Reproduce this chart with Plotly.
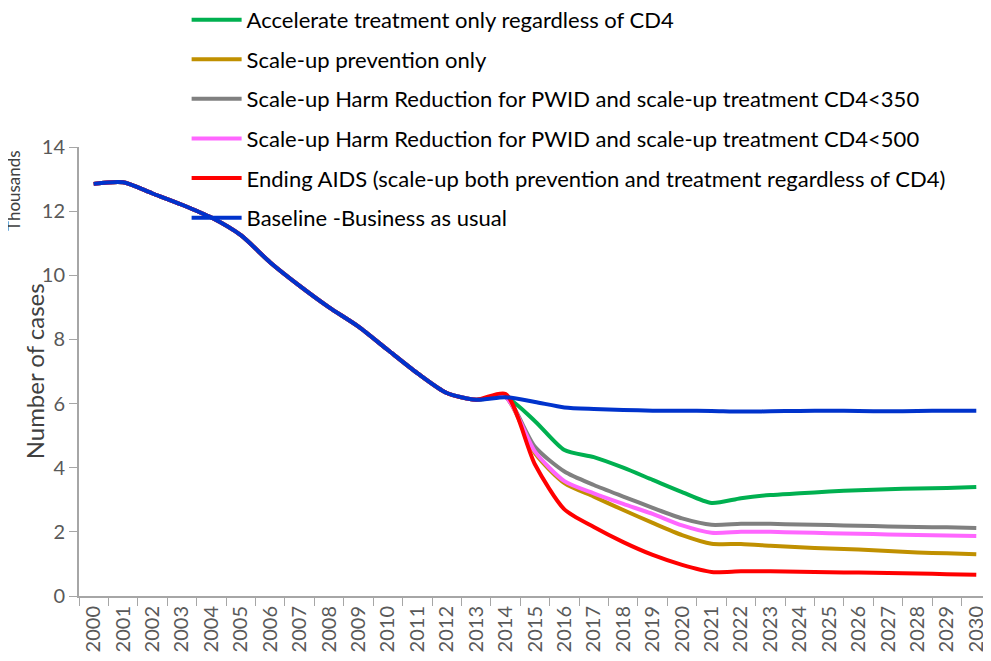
import plotly.graph_objects as go

years = [str(y) for y in range(2000, 2031)]

common = [12.85, 12.9, 12.55, 12.2, 11.8, 11.25, 10.4, 9.67, 9.0, 8.4, 7.67, 6.95, 6.33, 6.12]

baseline = common + [6.2, 6.05, 5.88, 5.83, 5.8, 5.78, 5.78, 5.77, 5.75, 5.76, 5.77, 5.78, 5.77, 5.76, 5.77, 5.78, 5.78]
accelerate = common + [6.2, 5.45, 4.55, 4.33, 4.0, 3.62, 3.24, 2.9, 3.05, 3.15, 3.2, 3.26, 3.3, 3.33, 3.35, 3.37, 3.4]
prevention = common + [6.2, 4.45, 3.52, 3.1, 2.68, 2.28, 1.9, 1.63, 1.62, 1.57, 1.52, 1.48, 1.45, 1.4, 1.36, 1.33, 1.3]
harm350 = common + [6.2, 4.65, 3.88, 3.46, 3.1, 2.75, 2.42, 2.22, 2.25, 2.25, 2.23, 2.21, 2.19, 2.17, 2.15, 2.14, 2.12]
harm500 = common + [6.2, 4.5, 3.58, 3.2, 2.87, 2.56, 2.2, 1.97, 2.0, 2.0, 1.98, 1.96, 1.94, 1.92, 1.9, 1.89, 1.87]
ending = common + [6.3, 4.1, 2.7, 2.15, 1.68, 1.28, 0.97, 0.75, 0.77, 0.77, 0.76, 0.74, 0.73, 0.72, 0.7, 0.68, 0.66]

names = [
    "Accelerate treatment only regardless of CD4",
    "Scale-up prevention only",
    "Scale-up Harm Reduction for PWID and scale-up treatment CD4<350",
    "Scale-up Harm Reduction for PWID and scale-up treatment CD4<500",
    "Ending AIDS (scale-up both prevention and treatment regardless of CD4)",
    "Baseline -Business as usual",
]
series = [accelerate, prevention, harm350, harm500, ending, baseline]
colors = ["#00B050", "#C09000", "#808080", "#FF66FF", "#FF0000", "#0033CC"]

fig = go.Figure()
for i, (n, s, c) in enumerate(zip(names, series, colors)):
    fig.add_trace(go.Scatter(
        x=years, y=s, name=n, mode="lines",
        line=dict(color=c, width=4, shape="spline", smoothing=0.7),
        legendgroup=f"g{i}",
    ))

fig.update_layout(
    width=983, height=653,
    margin=dict(l=71, r=0, t=139, b=65, autoexpand=False),
    plot_bgcolor="white", paper_bgcolor="white",
    font=dict(family="Lato, Open Sans, sans-serif", color="#595959"),
    showlegend=True,
    legend=dict(
        x=0.118, y=1.33, xanchor="left", yanchor="top",
        bgcolor="rgba(0,0,0,0)",
        font=dict(size=22, color="#000000", family="Lato, sans-serif"),
        tracegroupgap=8,
        itemwidth=50,
    ),
    xaxis=dict(
        type="category", range=[-0.5, 30.5],
        showline=True, linecolor="#A6A6A6", linewidth=2,
        ticks="outside", tickson="boundaries", ticklen=8, tickcolor="#A6A6A6",
        tickangle=-90, tickfont=dict(size=20, color="#595959"),
        showgrid=False,
    ),
    yaxis=dict(
        range=[0, 14], tickvals=[0, 2, 4, 6, 8, 10, 12, 14],
        showline=True, linecolor="#A6A6A6", linewidth=2,
        ticks="outside", ticklen=8, tickcolor="#A6A6A6",
        tickfont=dict(size=20, color="#595959"),
        showgrid=False, zeroline=False,
    ),
    annotations=[
        dict(text="Number of cases", textangle=-90, xref="paper", yref="paper",
             x=-0.049, y=0.501, xanchor="center", yanchor="middle", showarrow=False,
             font=dict(size=24, color="#404040")),
        dict(text="Thousands", textangle=-90, xref="paper", yref="paper",
             x=-0.0725, y=0.904, xanchor="center", yanchor="middle", showarrow=False,
             font=dict(size=17, color="#404040")),
    ],
)

fig.write_html("out.html")
